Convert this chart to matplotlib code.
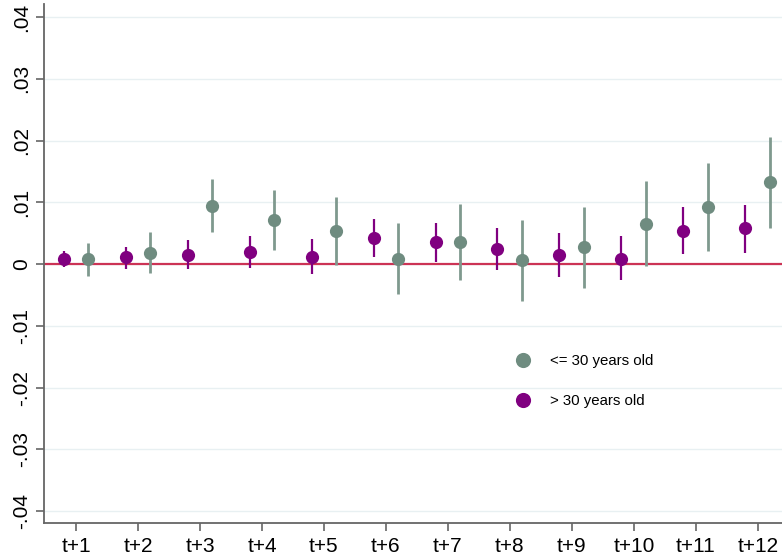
import matplotlib
matplotlib.use("Agg")
from matplotlib import pyplot as plt
import numpy as np

horizons = ["t+1", "t+2", "t+3", "t+4", "t+5", "t+6",
            "t+7", "t+8", "t+9", "t+10", "t+11", "t+12"]

# <= 30 years old
young_coef = [0.0008, 0.0018, 0.0094, 0.0071, 0.0053, 0.0009,
              0.0036, 0.0006, 0.0027, 0.0065, 0.0093, 0.0133]
young_lo = [-0.0019, -0.0015, 0.0052, 0.0023, -0.0001, -0.0049,
            -0.0026, -0.0060, -0.0039, -0.0003, 0.0021, 0.0059]
young_hi = [0.0034, 0.0052, 0.0137, 0.0120, 0.0108, 0.0067,
            0.0098, 0.0071, 0.0093, 0.0134, 0.0164, 0.0206]

# > 30 years old
old_coef = [0.0009, 0.0011, 0.0015, 0.0019, 0.0012, 0.0043,
            0.0036, 0.0025, 0.0015, 0.0009, 0.0054, 0.0058]
old_lo = [-0.0004, -0.0008, -0.0008, -0.0007, -0.0016, 0.0012,
          0.0003, -0.0010, -0.0021, -0.0026, 0.0016, 0.0018]
old_hi = [0.0022, 0.0028, 0.0039, 0.0045, 0.0040, 0.0073,
          0.0067, 0.0059, 0.0050, 0.0046, 0.0092, 0.0095]

green = "#6f8c80"
green_bar = "#7f998e"
purple = "#800080"
red = "#cc3355"
axis_gray = "#666666"

plt.rcParams["font.family"] = ["Liberation Sans", "DejaVu Sans"]

fig = plt.figure(figsize=(7.82, 5.59), dpi=100)
ax = fig.add_axes([44 / 782, 36 / 559, 1 - 44 / 782, 1 - 40 / 559])

x = np.arange(1, len(horizons) + 1)
off = 0.2

ax.axhline(0, color=red, lw=1.6, zorder=1)

ax.vlines(x - off, old_lo, old_hi, color=purple, lw=1.6, zorder=2)
ax.plot(x - off, old_coef, "o", color=purple, ms=9.5, mec="none", zorder=3,
        label="> 30 years old")
ax.vlines(x + off, young_lo, young_hi, color=green_bar, lw=2.0, zorder=2)
ax.plot(x + off, young_coef, "o", color=green, ms=9.5, mec="none", zorder=3,
        label="<= 30 years old")

yt = np.round(np.arange(-0.04, 0.0401, 0.01), 2)
ax.set_yticks(yt)
ax.set_yticklabels([("0" if v == 0 else ("%.2f" % v).replace("0.", "."))
                    for v in yt], rotation=90, va="center", fontsize=15)
ax.set_xticks(x)
ax.set_xticklabels(horizons, fontsize=15)
ax.set_xlim(0.484, 12.39)
ax.set_ylim(-0.0419, 0.0421)

ax.grid(axis="y", color="#e8f0f2", lw=1.0, zorder=0)
ax.set_axisbelow(True)
for s in ["top", "right"]:
    ax.spines[s].set_visible(False)
for s in ["left", "bottom"]:
    ax.spines[s].set_color(axis_gray)
    ax.spines[s].set_linewidth(1.3)
ax.tick_params(axis="both", colors=axis_gray, length=6, width=1.2,
               labelcolor="black")
ax.tick_params(axis="y", pad=3)
ax.tick_params(axis="x", pad=4)

handles, labels = ax.get_legend_handles_labels()
leg = ax.legend(handles[::-1], labels[::-1], loc="upper left",
                bbox_to_anchor=(458 / 738, 1 - 339 / 523), frameon=False,
                fontsize=10.8, handletextpad=1.3, labelspacing=1.75,
                handlelength=1.0, markerscale=1.15)

fig.savefig("out.png", dpi=100)
